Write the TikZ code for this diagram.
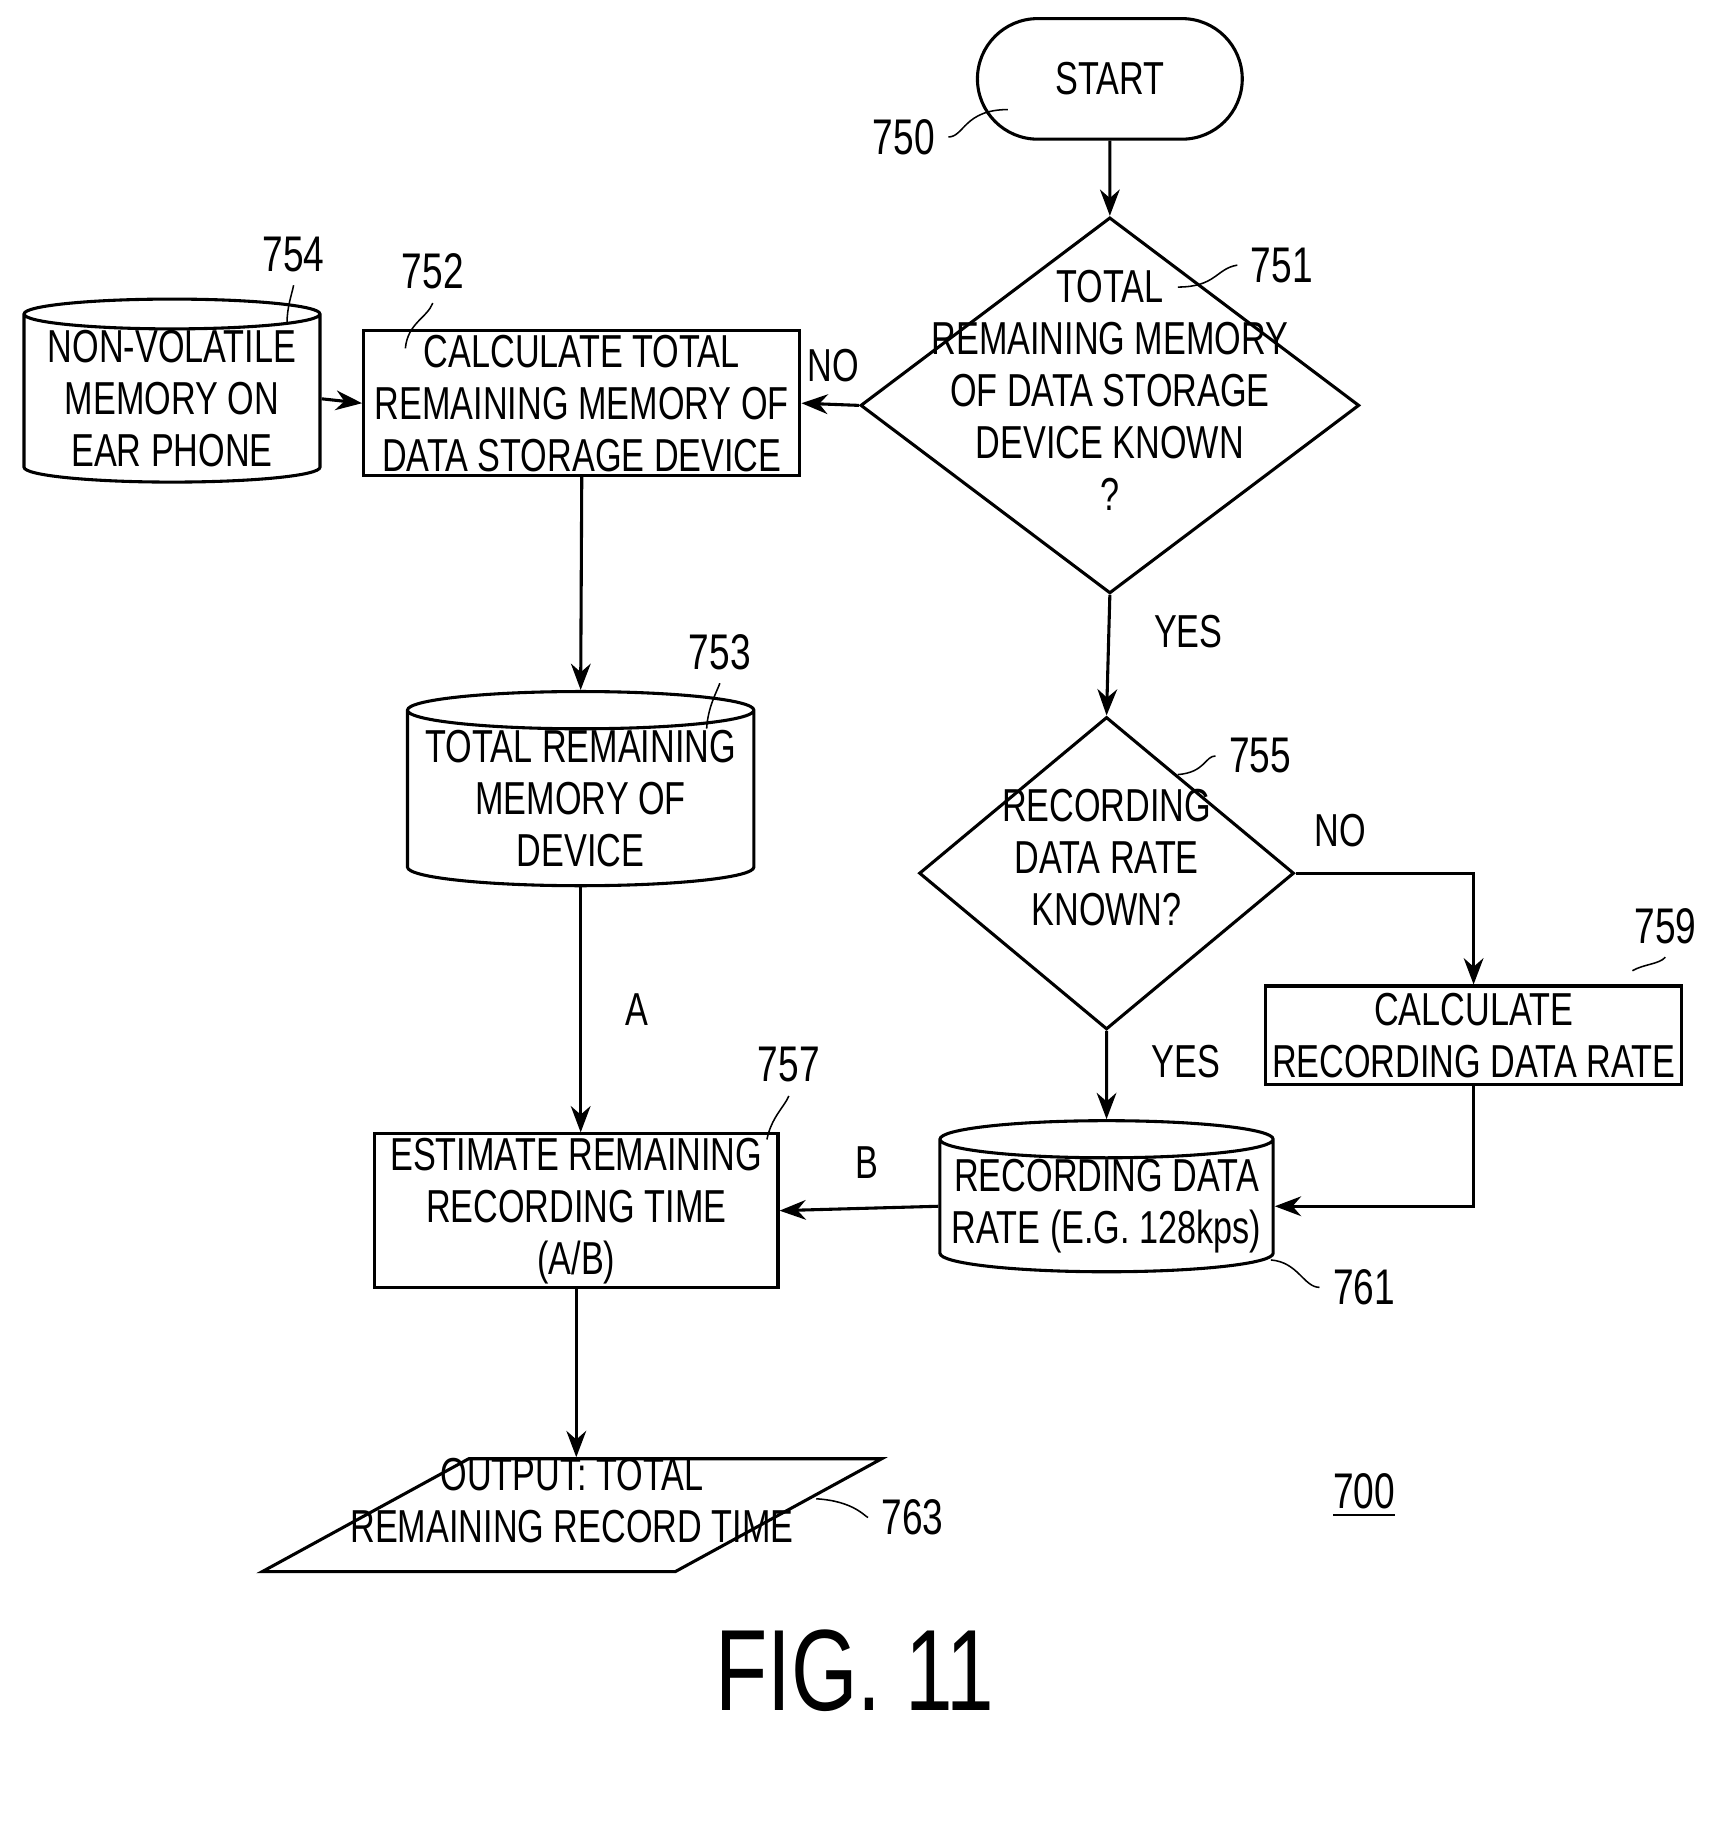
\documentclass[tikz,border=0pt]{standalone}
\usepackage{fontspec}
\setmainfont{Liberation Sans}[FakeStretch=0.74]
\usetikzlibrary{shapes.geometric, shapes.misc, arrows.meta, positioning}

\newcommand{\flattext}[1]{\makebox[1pt]{\rule{0pt}{1pt}\smash{\begin{tabular}{@{}c@{}}#1\end{tabular}}}}

\begin{document}
\begin{tikzpicture}[
    x=0.01cm, y=-0.01cm,
    font=\fontsize{12}{13.5}\selectfont,
    box/.style={rectangle, draw, thick, align=center, inner sep=0pt},
    store/.style={cylinder, shape border rotate=90, draw, thick, aspect=0.12, align=center, inner sep=0pt},
    decide/.style={diamond, draw, thick, inner sep=0pt},
    arrow/.style={-{Stealth[length=2.4mm,width=1.8mm]}, thick},
    ref/.style={font=\fontsize{13}{14}\selectfont},
]
\useasboundingbox (0,0) rectangle (1560,1684);

% flow nodes
\node[rounded rectangle, draw, thick, minimum width=2.65cm, minimum height=1.1cm] (start) at (1013,72) {START};
\node[decide, minimum width=4.55cm, minimum height=3.43cm] (known) at (1013,370) {\flattext{TOTAL\\REMAINING MEMORY\\OF DATA STORAGE\\DEVICE KNOWN\\?}};
\node[box, minimum width=3.98cm, minimum height=1.32cm] (calcmem) at (531,368) {CALCULATE TOTAL\\REMAINING MEMORY OF\\DATA STORAGE DEVICE};
\node[store, minimum width=2.7cm, minimum height=1.37cm] (earmem) at (157,364) {NON-VOLATILE\\MEMORY ON\\EAR PHONE};
\node[store, minimum width=3.16cm, minimum height=1.42cm] (totmem) at (530,729) {TOTAL REMAINING\\MEMORY OF\\DEVICE};
\node[decide, minimum width=3.42cm, minimum height=2.85cm] (ratek) at (1010,797) {\flattext{RECORDING\\DATA RATE\\KNOWN?}};
\node[box, minimum width=3.8cm, minimum height=0.9cm] (calcrate) at (1345,945) {CALCULATE\\RECORDING DATA RATE};
\node[store, minimum width=3.04cm, minimum height=1.12cm] (rate) at (1010,1101) {RECORDING DATA\\RATE (E.G. 128kps)};
\node[box, minimum width=3.68cm, minimum height=1.4cm] (estim) at (526,1105) {ESTIMATE REMAINING\\RECORDING TIME\\(A/B)};
\node[trapezium, trapezium left angle=45, trapezium right angle=135, trapezium stretches=true, draw, thick, inner sep=0pt, minimum width=5.65cm, minimum height=1.03cm] (out) at (522,1383) {\flattext{OUTPUT: TOTAL\\REMAINING RECORD TIME}};

% connectors
\draw[arrow] (start) -- (known);
\draw[arrow] (known.west) -- node[above=2pt, pos=0.45] {NO} (calcmem.east);
\draw[arrow] (earmem.east) -- (calcmem.west);
\draw[arrow] (calcmem.south) -- (totmem.north);
\draw[arrow] (totmem.south) -- node[right=8pt] {A} (totmem.south |- estim.north);
\draw[arrow] (known.south) -- node[right=8pt, pos=0.3] {YES} (ratek.north);
\draw[arrow] (ratek.east) -- node[above=3pt, pos=0.25] {NO} (calcrate.north |- ratek.east) -- (calcrate.north);
\draw[arrow] (ratek.south) -- node[right=8pt, pos=0.35] {YES} (rate.north);
\draw[arrow] (calcrate.south) |- (rate.east);
\draw[arrow] (rate.west) -- node[above=4pt, pos=0.45] {B} (estim.east);
\draw[arrow] (estim.south) -- (out.north -| estim.south);

% reference numerals
\node[ref] (n750) at (825,125) {750};
\draw (n750.east) .. controls (880,125) and (880,100) .. (920,100);
\node[ref] (n751) at (1170,242) {751};
\draw (n751.west) .. controls (1110,245) and (1110,262) .. (1075,262);
\node[ref] (n752) at (395,248) {752};
\draw (n752.south) .. controls (390,290) and (372,295) .. (370,318);
\node[ref] (n754) at (268,232) {754};
\draw (n754.south) .. controls (266,270) and (262,280) .. (262,295);
\node[ref] (n753) at (657,595) {753};
\draw (n753.south) .. controls (655,630) and (646,645) .. (645,665);
\node[ref] (n755) at (1150,690) {755};
\draw (n755.west) .. controls (1100,690) and (1100,705) .. (1075,707);
\node[ref] (n759) at (1520,845) {759};
\draw (n759.south) .. controls (1515,880) and (1500,880) .. (1490,886);
\node[ref] (n757) at (720,972) {757};
\draw (n757.south) .. controls (716,1010) and (704,1020) .. (700,1040);
\node[ref] (n761) at (1245,1175) {761};
\draw (n761.west) .. controls (1190,1175) and (1185,1152) .. (1160,1150);
\node[ref] (n763) at (833,1385) {763};
\draw (n763.west) .. controls (790,1385) and (780,1370) .. (745,1368);
\node[ref] (n700) at (1245,1365) {\underline{700}};
\node[font=\fontsize{30}{32}\selectfont] (fig) at (780,1525) {FIG. 11};
\end{tikzpicture}
\end{document}
